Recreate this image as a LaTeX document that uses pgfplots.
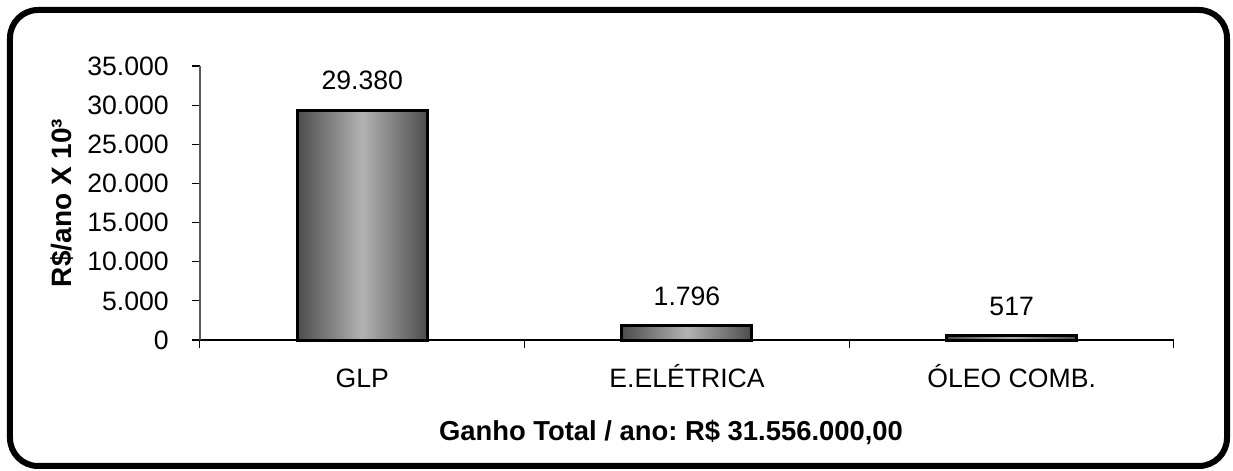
\documentclass[border=0pt]{standalone}
\usepackage{pgfplots}
\pgfplotsset{compat=1.18}
\usepackage{fontspec}
\setmainfont{Liberation Sans}
\begin{document}
\frenchspacing
\fontsize{13.3}{16}\selectfont
\begin{tikzpicture}
\useasboundingbox (-100pt,-65.5pt) rectangle (516.5pt,170pt);
\draw[line width=3pt, rounded corners=14pt] (-95pt,-63pt) rectangle (513.5pt,165pt);
\begin{axis}[
  at={(0,0)}, anchor=south west,
  scale only axis,
  width=487pt, height=137pt,
  xmin=-0.5, xmax=2.5,
  ymin=0, ymax=35000,
  axis x line*=bottom,
  axis y line*=left,
  x axis line style={black, line width=0.6pt, -},
  y axis line style={gray!70!black, line width=0.6pt, -},
  xtick={-0.5,0.5,1.5,2.5},
  xticklabels={},
  x tick style={black, line width=0.5pt},
  extra x ticks={0,1,2},
  extra x tick labels={GLP, E.ELÉTRICA, ÓLEO COMB.},
  extra x tick style={major tick length=0pt, xticklabel style={anchor=base, yshift=-23.5pt}},
  ytick={0,5000,...,35000},
  y tick style={black, line width=0.6pt},
  tick align=outside,
  major tick length=4pt,
  ticklabel style={font=\fontsize{13.3}{16}\selectfont},
  yticklabel style={xshift=-7pt, /pgf/number format/.cd, 1000 sep={.}, assume math mode=true},
  scaled y ticks=false,
  ylabel={\bfseries R\$/ano X 10³},
  every axis y label/.style={at={(axis description cs:-0.1417,0.5)}, rotate=90, anchor=center, font=\fontsize{14}{16}\selectfont},
  xlabel={\bfseries\frenchspacing Ganho Total / ano: R\$ 31.556.000,00},
  xlabel style={yshift=-3.5pt, xshift=-8pt, font=\fontsize{13.7}{16}\selectfont},
  ybar, bar width=65pt, bar shift=0pt,
  nodes near coords,
  nodes near coords style={black, font=\fontsize{13.3}{16}\selectfont, yshift=5pt, /pgf/number format/.cd, 1000 sep={.}, assume math mode=true},
  clip=false,
  mybar/.style={draw=black, line width=1.5pt, left color=black!70, right color=black!70, middle color=black!30},
]
\addplot[mybar] coordinates {(0,29380)};
\addplot[mybar] coordinates {(1,1796)};
\addplot[mybar] coordinates {(2,517)};
\end{axis}
\end{tikzpicture}
\end{document}
